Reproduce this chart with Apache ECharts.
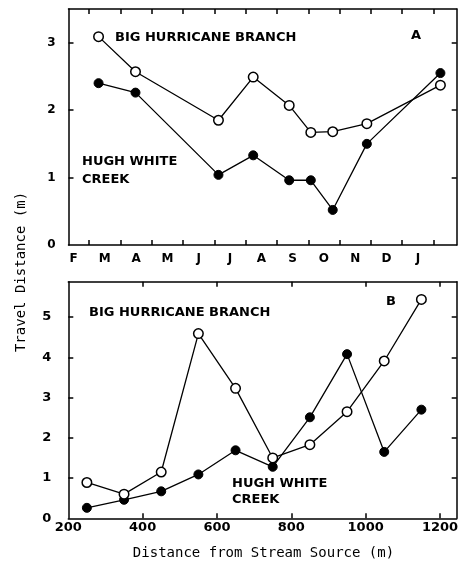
<!DOCTYPE html>
<html>
<head>
<meta charset="utf-8">
<script src="https://cdn.jsdelivr.net/npm/echarts@6/dist/echarts.min.js"></script>
<style>
html,body{margin:0;padding:0;background:#fff;}
#chart{width:458px;height:568px;}
</style>
</head>
<body>
<div id="chart"></div>
<script>
// ---- Data ----
const monthLabels = ['F','M','A','M','J','J','A','S','O','N','D','J'];
const monthLabelPos = [0,1,2,3,4,5,6,7,8,9,10,11];
const monthTickPos = [0.5,1.5,2.5,3.5,4.5,5.5,6.5,7.5,8.5,9.5,10.5,11.5];
const sampleMonthPos = [0.8, 1.98, 4.63, 5.74, 6.89, 7.58, 8.28, 9.37, 11.72];
const bigHurricaneA = [3.09, 2.57, 1.85, 2.49, 2.07, 1.67, 1.68, 1.80, 2.37];
const hughWhiteA   = [2.40, 2.26, 1.04, 1.33, 0.96, 0.96, 0.52, 1.50, 2.55];

const distanceB = [250, 350, 450, 550, 650, 750, 850, 950, 1050, 1150];
const bigHurricaneB = [0.89, 0.60, 1.15, 4.59, 3.23, 1.50, 1.83, 2.65, 3.91, 5.44];
const hughWhiteB   = [0.26, 0.46, 0.67, 1.09, 1.69, 1.28, 2.51, 4.08, 1.65, 2.70];

const yLabelsA = [0, 1, 2, 3];
const yTicksA = [1, 2, 3];
const yLabelsB = [0, 1, 2, 3, 4, 5];
const yTicksB = [1, 2, 3, 4, 5];
const xLabelsB = [200, 400, 600, 800, 1000, 1200];
const xTicksB = [400, 600, 800, 1000, 1200];

// ---- Styling ----
const BOLD = 'DejaVu Sans';
const lineStyle = {color: '#000', width: 1.5};
const tickStyle = {color: '#000', width: 1.5};

function pairs(xs, ys) { return xs.map((x, i) => [x, ys[i]]); }

const openSeries = (x, y, xi, yi) => ({
  type: 'line', xAxisIndex: xi, yAxisIndex: yi, data: pairs(x, y),
  symbol: 'circle', symbolSize: 9.5,
  itemStyle: {color: '#fff', borderColor: '#000', borderWidth: 1.5},
  lineStyle: {color: '#000', width: 1.3}, z: 3, animation: false
});
const filledSeries = (x, y, xi, yi) => ({
  type: 'line', xAxisIndex: xi, yAxisIndex: yi, data: pairs(x, y),
  symbol: 'circle', symbolSize: 9,
  itemStyle: {color: '#000', borderColor: '#000', borderWidth: 1},
  lineStyle: {color: '#000', width: 1.3}, z: 2, animation: false
});

const chart = echarts.init(document.getElementById('chart'), null, {renderer: 'canvas'});

const textStyleBold = (size) => ({fontFamily: BOLD, fontWeight: 'bold', fontSize: size, fill: '#000'});

chart.setOption({
  backgroundColor: '#fff',
  animation: false,
  grid: [
    {left: 68.5, top: 9, width: 388.2, height: 236, outerBoundsMode: 'none', containLabel: false},
    {left: 68.3, top: 281.7, width: 388.4, height: 236.6, outerBoundsMode: 'none', containLabel: false}
  ],
  xAxis: [
    {gridIndex: 0, type: 'value', position: 'bottom', min: -0.16, max: 12.24,
     axisLine: {show: true, onZero: false, lineStyle: lineStyle},
     axisTick: {show: true, inside: true, length: 5, customValues: monthTickPos, lineStyle: tickStyle},
     axisLabel: {show: true, customValues: monthLabelPos, margin: 8, color: '#000',
       fontFamily: BOLD, fontWeight: 'bold', fontSize: 12,
       formatter: v => monthLabels[Math.round(v)]},
     splitLine: {show: false}},
    {gridIndex: 0, type: 'value', position: 'top', min: -0.16, max: 12.24,
     axisLine: {show: true, onZero: false, lineStyle: lineStyle},
     axisTick: {show: true, inside: true, length: 5, customValues: monthTickPos, lineStyle: tickStyle},
     axisLabel: {show: false}, splitLine: {show: false}},
    {gridIndex: 1, type: 'value', position: 'bottom', min: 200, max: 1245,
     axisLine: {show: true, onZero: false, lineStyle: lineStyle},
     axisTick: {show: true, inside: true, length: 5, customValues: xTicksB, lineStyle: tickStyle},
     axisLabel: {show: true, customValues: xLabelsB, margin: 3, color: '#000',
       fontFamily: BOLD, fontWeight: 'bold', fontSize: 13, formatter: v => String(v)},
     splitLine: {show: false}},
    {gridIndex: 1, type: 'value', position: 'top', min: 200, max: 1245,
     axisLine: {show: true, onZero: false, lineStyle: lineStyle},
     axisTick: {show: true, inside: true, length: 5, customValues: xTicksB, lineStyle: tickStyle},
     axisLabel: {show: false}, splitLine: {show: false}}
  ],
  yAxis: [
    {gridIndex: 0, type: 'value', position: 'left', min: 0, max: 3.5,
     axisLine: {show: true, onZero: false, lineStyle: lineStyle},
     axisTick: {show: true, inside: true, length: 5, customValues: yTicksA, lineStyle: tickStyle},
     axisLabel: {show: true, customValues: yLabelsA, margin: 13, color: '#000',
       fontFamily: BOLD, fontWeight: 'bold', fontSize: 12},
     splitLine: {show: false}},
    {gridIndex: 0, type: 'value', position: 'right', min: 0, max: 3.5,
     axisLine: {show: true, onZero: false, lineStyle: lineStyle},
     axisTick: {show: true, inside: true, length: 5, customValues: yTicksA, lineStyle: tickStyle},
     axisLabel: {show: false}, splitLine: {show: false}},
    {gridIndex: 1, type: 'value', position: 'left', min: 0, max: 5.88,
     axisLine: {show: true, onZero: false, lineStyle: lineStyle},
     axisTick: {show: true, inside: true, length: 5, customValues: yTicksB, lineStyle: tickStyle},
     axisLabel: {show: true, customValues: yLabelsB, margin: 17, color: '#000',
       fontFamily: BOLD, fontWeight: 'bold', fontSize: 13},
     splitLine: {show: false}},
    {gridIndex: 1, type: 'value', position: 'right', min: 0, max: 5.88,
     axisLine: {show: true, onZero: false, lineStyle: lineStyle},
     axisTick: {show: true, inside: true, length: 5, customValues: yTicksB, lineStyle: tickStyle},
     axisLabel: {show: false}, splitLine: {show: false}}
  ],
  series: [
    filledSeries(sampleMonthPos, hughWhiteA, 0, 0),
    openSeries(sampleMonthPos, bigHurricaneA, 0, 0),
    filledSeries(distanceB, hughWhiteB, 2, 2),
    openSeries(distanceB, bigHurricaneB, 2, 2)
  ],
  graphic: [
    {type: 'text', left: 115, top: 31, style: Object.assign({text: 'BIG HURRICANE BRANCH'}, textStyleBold(13))},
    {type: 'text', left: 411, top: 29, style: Object.assign({text: 'A'}, textStyleBold(13))},
    {type: 'text', left: 82, top: 152, style: Object.assign({text: 'HUGH WHITE\nCREEK', lineHeight: 18.5}, textStyleBold(13))},
    {type: 'text', left: 89, top: 306, style: Object.assign({text: 'BIG HURRICANE BRANCH'}, textStyleBold(13))},
    {type: 'text', left: 386, top: 295, style: Object.assign({text: 'B'}, textStyleBold(13))},
    {type: 'text', left: 232, top: 476, style: Object.assign({text: 'HUGH WHITE\nCREEK', lineHeight: 16}, textStyleBold(13))},
    {type: 'text', x: 21, y: 272, rotation: Math.PI / 2,
     style: {text: 'Travel Distance (m)', fontFamily: 'DejaVu Sans Mono', fontSize: 14, fill: '#000',
             align: 'center', verticalAlign: 'middle'}},
    {type: 'text', x: 263.5, y: 553, 
     style: {text: 'Distance from Stream Source (m)', fontFamily: 'DejaVu Sans Mono', fontSize: 14, fill: '#000',
             align: 'center', verticalAlign: 'middle'}}
  ]
});
</script>
</body>
</html>
